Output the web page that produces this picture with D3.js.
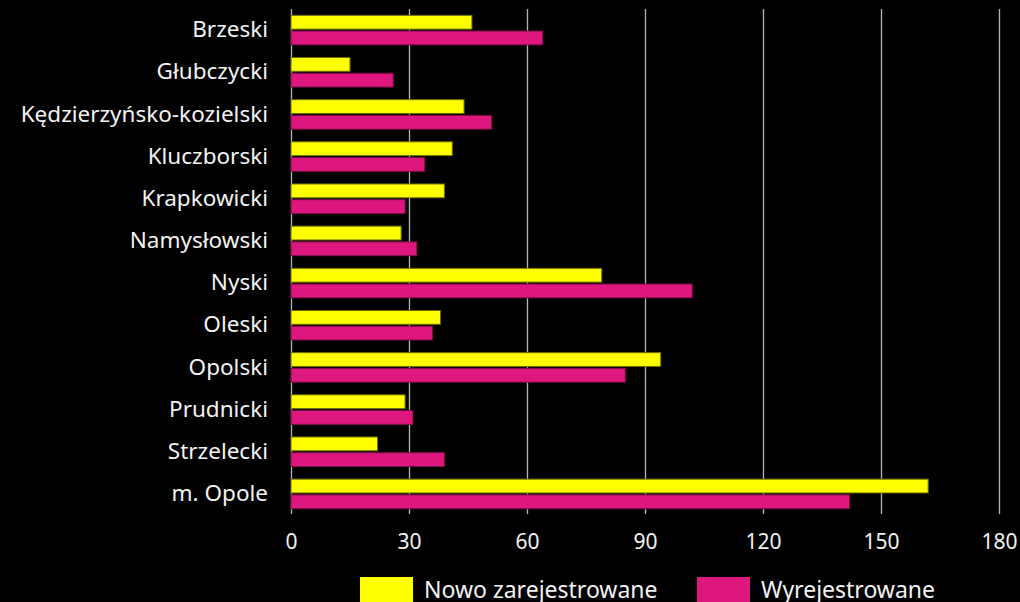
<!DOCTYPE html>
<html>
<head>
<meta charset="utf-8">
<script src="https://cdn.jsdelivr.net/npm/d3@7"></script>
<style>
  html, body { margin: 0; padding: 0; background: #000; overflow: hidden; }
  text { font-family: "Noto Sans", sans-serif; fill: #f2f2f2; }
</style>
</head>
<body>
<script>
var POWIATY = ["Brzeski", "Głubczycki", "Kędzierzyńsko-kozielski", "Kluczborski", "Krapkowicki", "Namysłowski", "Nyski", "Oleski", "Opolski", "Prudnicki", "Strzelecki", "m. Opole"];
var SERIE = ["Nowo zarejestrowane", "Wyrejestrowane"];
var NOWO = [46, 15, 44, 41, 39, 28, 79, 38, 94, 29, 22, 162];
var WYREJ = [64, 26, 51, 34, 29, 32, 102, 36, 85, 31, 39, 142];
var TICKS = [0, 30, 60, 90, 120, 150, 180];

var KOLORY = ["#ffff00", "#de177e"];
var OBRYSY = ["#6b6b00", "#7a0c45"];

var W = 1020, H = 602;
var svg = d3.select("body").append("svg").attr("width", W).attr("height", H);
svg.append("rect").attr("width", W).attr("height", H).attr("fill", "#000");

var x = d3.scaleLinear().domain([0, 180]).range([291, 999]);
var y = d3.scaleBand().domain(POWIATY).range([9, 515]);
var y1 = d3.scaleBand().domain(SERIE).range([6.3, y.bandwidth() - 6.3]).paddingInner(0.12);

// siatka i oś X
var xAxis = svg.append("g").attr("transform", "translate(0,514)")
  .call(d3.axisBottom(x).tickValues(TICKS).tickSize(-505).tickPadding(20));
xAxis.select(".domain").remove();
xAxis.selectAll("line").attr("stroke", "#b4b4b4").attr("stroke-width", 1.3);
xAxis.selectAll("text").attr("font-size", 21).attr("fill", "#f2f2f2");

// oś Y
var yAxis = svg.append("g").attr("transform", "translate(291,0)")
  .call(d3.axisLeft(y).tickSize(0).tickPadding(23));
yAxis.select(".domain").remove();
yAxis.selectAll("text").attr("font-size", 22.5).attr("fill", "#f2f2f2");

var dane = POWIATY.map(function (p, i) {
  return { powiat: p, wartosci: [NOWO[i], WYREJ[i]] };
});

var grupy = svg.selectAll("g.grupa").data(dane).enter().append("g")
  .attr("class", "grupa")
  .attr("transform", function (d) { return "translate(0," + y(d.powiat) + ")"; });

grupy.selectAll("rect").data(function (d) {
  return d.wartosci.map(function (v, j) { return { seria: SERIE[j], v: v, j: j }; });
}).enter().append("rect")
  .attr("x", x(0))
  .attr("y", function (d) { return y1(d.seria); })
  .attr("width", function (d) { return x(d.v) - x(0); })
  .attr("height", y1.bandwidth())
  .attr("fill", function (d) { return KOLORY[d.j]; })
  .attr("stroke", function (d) { return OBRYSY[d.j]; })
  .attr("stroke-width", 1);

// legenda
var legX = [360, 697];
var leg = svg.selectAll("g.leg").data(SERIE).enter().append("g")
  .attr("class", "leg")
  .attr("transform", function (d, i) { return "translate(" + legX[i] + ",577)"; });
leg.append("rect").attr("width", 53).attr("height", 30)
  .attr("fill", function (d, i) { return KOLORY[i]; });
leg.append("text").attr("x", 64).attr("y", 21).attr("font-size", 23)
  .text(function (d) { return d; });
</script>
</body>
</html>
